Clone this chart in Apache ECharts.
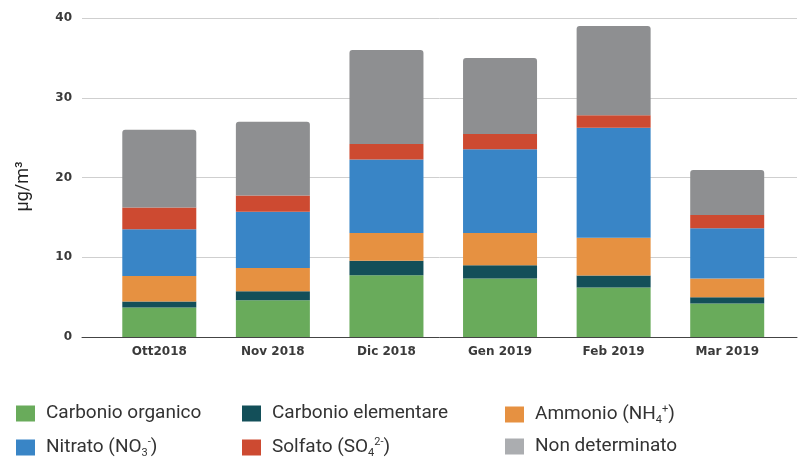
<!DOCTYPE html>
<html>
<head>
<meta charset="utf-8">
<script src="https://cdn.jsdelivr.net/npm/echarts@6/dist/echarts.min.js"></script>
<style>
  html, body { margin: 0; padding: 0; background: #fff; }
  #chart { width: 800px; height: 459px; }
</style>
</head>
<body>
<div id="chart"></div>
<script>
var mesi = ['Ott2018', 'Nov 2018', 'Dic 2018', 'Gen 2019', 'Feb 2019', 'Mar 2019'];

var carbonioOrganico = [3.7, 4.6, 7.75, 7.35, 6.2, 4.2];
var carbonioElementare = [0.75, 1.15, 1.8, 1.65, 1.5, 0.8];
var ammonio = [3.2, 2.9, 3.5, 4.05, 4.75, 2.35];
var nitrato = [5.85, 7.05, 9.2, 10.5, 13.8, 6.3];
var solfato = [2.75, 2.05, 1.95, 1.9, 1.55, 1.65];
var nonDeterminato = [9.75, 9.25, 11.8, 9.55, 11.2, 5.65];

var yTicks = [0, 10, 20, 30, 40];

var chart = echarts.init(document.getElementById('chart'));

var legendFont = 'Roboto';
var rich = {
    t: { fontFamily: legendFont, fontSize: 19, color: '#333' },
    sub: { fontFamily: legendFont, fontSize: 11, color: '#333', padding: [12, 0, 0, 0] },
    sup: { fontFamily: legendFont, fontSize: 11, color: '#333', padding: [0, 0, 10, 0] }
};
var labels = {
    'Carbonio organico': '{t|Carbonio organico}',
    'Carbonio elementare': '{t|Carbonio elementare}',
    'Ammonio': '{t|Ammonio (NH}{sub|4}{sup|+}{t|)}',
    'Nitrato': '{t|Nitrato (NO}{sub|3}{sup|-}{t|)}',
    'Solfato': '{t|Solfato (SO}{sub|4}{sup|2-}{t|)}',
    'Non determinato': '{t|Non determinato}'
};

// una legenda per voce, per avere le colonne fisse come nell'originale
function makeLegend(name, left, top) {
    return {
        data: [name == 'Non determinato' ? { name: name, itemStyle: { color: '#abadb0' } } : name],
        left: left,
        top: top,
        padding: 0,
        icon: 'rect',
        itemWidth: 19,
        itemHeight: 16,
        selectedMode: false,
        formatter: n => labels[n],
        textStyle: { rich: rich, padding: [0, 0, 0, 6] }
    };
}

function serie(name, data, color, top) {
    return {
        name: name,
        type: 'bar',
        stack: 'tot',
        xAxisIndex: 1,
        yAxisIndex: 1,
        barWidth: 74,
        data: data,
        itemStyle: { color: color, borderRadius: top ? [3, 3, 0, 0] : 0 }
    };
}

var axisFont = { fontSize: 12, fontWeight: 'bold', color: '#3a3a3a', fontFamily: 'DejaVu Sans' };

option = {
    animation: false,
    legend: [
        makeLegend('Carbonio organico', 16, 404),
        makeLegend('Carbonio elementare', 242, 404),
        makeLegend('Ammonio', 505, 404),
        makeLegend('Nitrato', 16, 437),
        makeLegend('Solfato', 242, 437),
        makeLegend('Non determinato', 505, 437)
    ],
    grid: [
        { left: 82, right: 3, top: 18, bottom: 122 },
        { left: 102.5, right: 16, top: 18, bottom: 122 }
    ],
    xAxis: [
        {
            type: 'value', gridIndex: 0, min: 0, max: 1,
            axisLine: { show: true, onZero: false, lineStyle: { color: '#444', width: 1 } },
            axisTick: { show: false }, axisLabel: { show: false }, splitLine: { show: false }
        },
        {
            type: 'category', gridIndex: 1, data: mesi,
            axisLine: { show: false }, axisTick: { show: false },
            axisLabel: Object.assign({ margin: 9 }, axisFont)
        }
    ],
    yAxis: [
        {
            type: 'value', gridIndex: 0, min: yTicks[0], max: yTicks[yTicks.length - 1], interval: 10,
            name: 'μg/m³', nameLocation: 'middle', nameGap: 50,
            nameTextStyle: { fontSize: 18, color: '#222', fontFamily: 'Roboto', padding: [0, 18, 0, 0] },
            axisLine: { show: false }, axisTick: { show: false },
            axisLabel: Object.assign({ margin: 10 }, axisFont),
            splitLine: { lineStyle: { color: '#cfcfcf', width: 1 } }
        },
        {
            type: 'value', gridIndex: 1, min: 0, max: 40, show: false
        }
    ],
    series: [
        serie('Carbonio organico', carbonioOrganico, '#69ab5b'),
        serie('Carbonio elementare', carbonioElementare, '#134f59'),
        serie('Ammonio', ammonio, '#e69141'),
        serie('Nitrato', nitrato, '#3985c6'),
        serie('Solfato', solfato, '#cd4a31'),
        serie('Non determinato', nonDeterminato, '#8e8f91', true)
    ]
};

chart.setOption(option);
</script>
</body>
</html>
